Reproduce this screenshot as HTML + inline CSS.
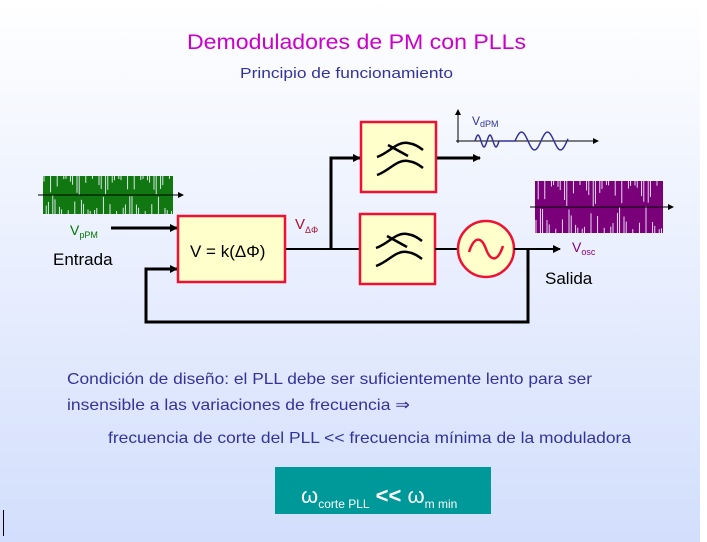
<!DOCTYPE html>
<html><head><meta charset="utf-8"><style>
html,body{margin:0;padding:0;width:707px;height:542px;overflow:hidden}
body{background:linear-gradient(#ffffff,#d2defc);font-family:"Liberation Sans",sans-serif}
</style></head><body>
<svg id="s" width="707" height="542" xmlns="http://www.w3.org/2000/svg" style="position:absolute;left:0;top:0">
<defs><marker id="a" markerWidth="8" markerHeight="8" refX="7" refY="4" orient="auto" markerUnits="userSpaceOnUse"><path d="M0,0L8,4L0,8z" fill="#000"/></marker>
<marker id="sa" markerWidth="6" markerHeight="6" refX="5" refY="3" orient="auto" markerUnits="userSpaceOnUse"><path d="M0,0L6,3L0,6z" fill="#000"/></marker></defs>
<rect x="700" y="0" width="7" height="542" fill="#fff"/>
<line x1="3.5" y1="510" x2="3.5" y2="536" stroke="#000" stroke-width="1"/>
<text x="187" y="49" font-size="21" fill="#cc00cc" textLength="339" lengthAdjust="spacingAndGlyphs">Demoduladores de PM con PLLs</text>
<text x="240" y="78" font-size="15" fill="#333399" textLength="213" lengthAdjust="spacingAndGlyphs">Principio de funcionamiento</text>
<g id="gw"></g><g id="pw"></g>
<line x1="38" y1="195" x2="183" y2="195" stroke="#000" marker-end="url(#sa)"/>
<line x1="530" y1="207" x2="673" y2="207" stroke="#000" marker-end="url(#sa)"/>
<text x="70" y="235" font-size="14" fill="#007700">V<tspan font-size="9" dy="3">pPM</tspan></text>
<text x="53" y="265" font-size="17" fill="#000">Entrada</text>
<line x1="111" y1="228" x2="177" y2="228" stroke="#000" stroke-width="3" marker-end="url(#a)"/>
<polyline points="528,249 528,322 146,322 146,269 177,269" fill="none" stroke="#000" stroke-width="3" marker-end="url(#a)"/>
<rect x="178" y="216" width="107" height="66" fill="#ffffcc" stroke="#ee1133" stroke-width="2.5"/>
<text x="190" y="257" font-size="17" fill="#000">V = k(ΔΦ)</text>
<line x1="286" y1="249" x2="360" y2="249" stroke="#000" stroke-width="2"/>
<polyline points="331,249 331,158 360,158" fill="none" stroke="#000" stroke-width="3" marker-end="url(#a)"/>
<text x="295" y="229" font-size="15" fill="#aa1133">V<tspan font-size="9" dy="4">ΔΦ</tspan></text>
<rect x="361" y="122" width="75" height="70" fill="#ffffcc" stroke="#ee1133" stroke-width="2.5"/>
<rect x="360" y="214" width="75" height="70" fill="#ffffcc" stroke="#ee1133" stroke-width="2.5"/>
<g fill="none" stroke="#000" stroke-width="2.5">
<path d="M376,248 C388,244 396,232 407,234 C414,235 418,238 422,241 M387,236 L407,247 M376,266 C388,262 396,250 407,252 C414,253 418,256 422,259"/>
<path d="M377,157 C389,153 397,141 408,143 C415,144 419,147 423,150 M388,145 L408,156 M377,175 C389,171 397,159 408,161 C415,162 419,165 423,168"/>
</g>
<line x1="437" y1="158" x2="480" y2="158" stroke="#000" stroke-width="3" marker-end="url(#a)"/>
<line x1="435" y1="249" x2="458" y2="249" stroke="#000" stroke-width="2"/>
<circle cx="486" cy="249" r="28" fill="#ffffcc" stroke="#ee1133" stroke-width="2.5"/>
<path d="M469,252 C475,234 482,238 486,249 C490,260 497,264 503,246" fill="none" stroke="#ee1133" stroke-width="2.5"/>
<line x1="514" y1="249" x2="560" y2="249" stroke="#000" stroke-width="2" marker-end="url(#a)"/>
<text x="572" y="252" font-size="14" fill="#880088">V<tspan font-size="9" dy="3">osc</tspan></text>
<text x="545" y="284" font-size="17" fill="#000">Salida</text>
<line x1="458" y1="143" x2="458" y2="110" stroke="#000" marker-end="url(#sa)"/>
<line x1="456" y1="141" x2="598" y2="141" stroke="#000" marker-end="url(#sa)"/>
<text x="472" y="125" font-size="12" fill="#333399">V<tspan font-size="9" dy="2">dPM</tspan></text>
<path id="sw" fill="none" stroke="#333399" stroke-width="1.5"/>
<text x="67" y="384" font-size="16" fill="#333399" textLength="525" lengthAdjust="spacingAndGlyphs">Condición de diseño: el PLL debe ser suficientemente lento para ser</text>
<text x="67" y="410" font-size="16" fill="#333399" textLength="343" lengthAdjust="spacingAndGlyphs">insensible a las variaciones de frecuencia ⇒</text>
<text x="108" y="443" font-size="16" fill="#333399" textLength="523" lengthAdjust="spacingAndGlyphs">frecuencia de corte del PLL &lt;&lt; frecuencia mínima de la moduladora</text>
<rect x="275" y="467" width="216" height="47" fill="#009999"/>
<text x="301" y="503" font-size="22" fill="#fff">ω<tspan font-size="12" dy="5">corte PLL</tspan><tspan dy="-5" font-weight="bold"> &lt;&lt; </tspan><tspan>ω</tspan><tspan font-size="12" dy="5">m min</tspan></text>
</svg>
<script>
var NS="http://www.w3.org/2000/svg";
function wave(id,x0,x1,yc,h,col,seed){var g=document.getElementById(id);
var r=document.createElementNS(NS,"rect");r.setAttribute("x",x0);r.setAttribute("y",yc-h);r.setAttribute("width",x1-x0);r.setAttribute("height",2*h);r.setAttribute("fill",col);g.appendChild(r);
for(var x=x0+1;x<x1;x+=2.2){var a=Math.abs(Math.sin(x*0.12+seed));var L=h*(0.15+0.9*(1-a));if(L>2*h)L=2*h;var top=(Math.sin(x*0.9+seed)>0);
var l=document.createElementNS(NS,"line");l.setAttribute("x1",x);l.setAttribute("x2",x);l.setAttribute("y1",top?yc-h:yc+h-L);l.setAttribute("y2",top?yc-h+L:yc+h);l.setAttribute("stroke","#eef2ff");l.setAttribute("stroke-width","0.9");g.appendChild(l);}}
wave("gw",43,173,195,19,"#117711",0);
wave("pw",535,663,207,26,"#7a007a",1);
var d="";for(var x=475;x<=568;x++){var y;if(x<500){y=141-6*Math.sin((x-475)*2*Math.PI/12);}else if(x<515){y=141;}else{y=141-9*Math.sin((x-515)*2*Math.PI/26);}d+=(d?"L":"M")+x+","+y.toFixed(1);}
document.getElementById("sw").setAttribute("d",d);
</script>
</body></html>
